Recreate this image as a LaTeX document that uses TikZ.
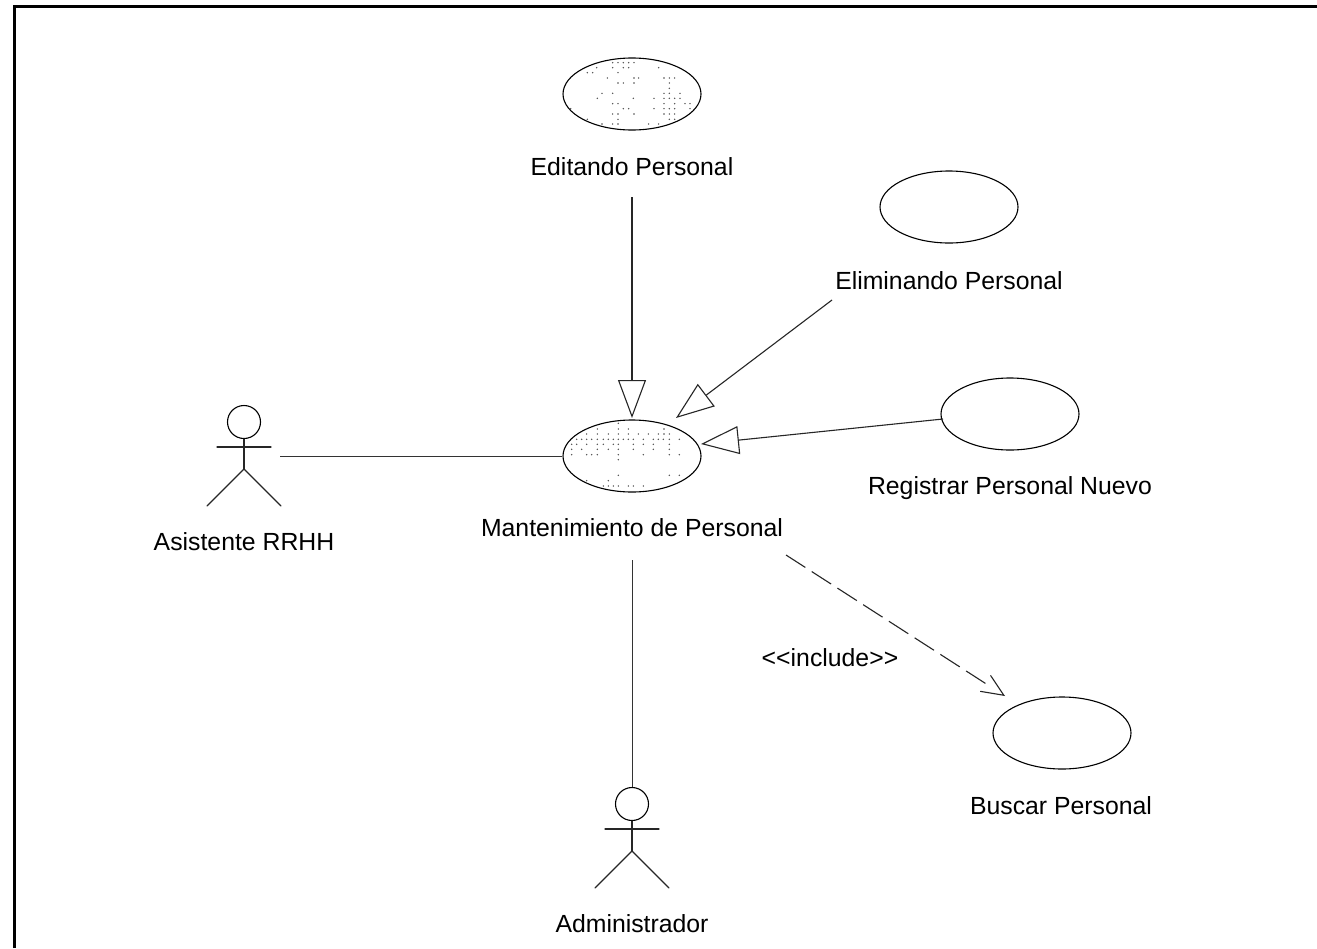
\documentclass[tikz,border=0pt]{standalone}
\usepackage{fontspec}
\setmainfont{Liberation Sans}
\usetikzlibrary{arrows.meta,shapes.geometric}
\tikzset{
  x=1pt,y=-1pt,
  usecase/.style={draw=black,ellipse,line width=1.1pt,minimum width=138pt,minimum height=72pt,inner sep=0pt,fill=white},
  lbl/.style={font=\fontsize{24.8}{28}\selectfont,inner sep=0pt,text=black},
  limb/.style={line width=1.1pt,line cap=round,black!85},
  assoc/.style={line width=1pt,black!80},
  gen/.style={line width=1.1pt,black!85,-{Triangle[open,length=38pt,width=28pt,line width=1.1pt]}},
  dep/.style={line width=1.1pt,black!85,dash pattern=on 23pt off 7.6pt on 23pt off 7.6pt on 23pt off 7.6pt on 23pt off 7.6pt on 23pt off 7.6pt on 23pt off 7.6pt on 23pt off 7.6pt on 23pt off 100pt,-{Straight Barb[length=22pt,width=19pt,line width=1.1pt]}},
  actorhead/.style={circle,draw=black,line width=1.1pt,minimum size=33pt,inner sep=0pt},
  speck/.style={fill=black!70}
}
\newcommand{\actorfig}[3]{%
  \node[actorhead] (#3h) at (#1,#2) {};
  \coordinate (#3b) at (#1,#2+47);
  \coordinate (#3al) at (#1-27,#2+25);
  \coordinate (#3ar) at (#1+27,#2+25);
  \coordinate (#3ll) at (#1-37,#2+84);
  \coordinate (#3lr) at (#1+37,#2+84);
  \draw[limb] (#3h.south) -- (#3b);
  \draw[limb] (#3al) -- (#3ar);
  \draw[limb] (#3ll) -- (#3b) -- (#3lr);
}
\begin{document}
\begin{tikzpicture}
\useasboundingbox (0,0) rectangle (1317,948);
\fill[white] (0,0) rectangle (1317,948);
\draw[line width=3pt,black] (14,948) -- (14,6) -- (1317,6);

\node[usecase] (edit) at (632,94) {};
\node[usecase] (elim) at (949,207) {};
\node[usecase] (reg) at (1010,414) {};
\node[usecase] (mant) at (632,456) {};
\node[usecase] (busc) at (1062,733) {};

\foreach \yy/\xs in {68/{188,204,220,236,252},83/{140,188,220,236,326},98/{112,128,204},114/{172,252,266,342,358,374},129/{204,220,252,358},145/{358},160/{156,188,342,358,390},175/{142,250,312,342,358,374,390},191/{188,204,342,374,405,420},206/{62,220,236,312,342,358,374,420},222/{188,204,252,342,358,374},238/{112,204,358,374},252/{156,188,204,296,326}}
  \foreach \xx in \xs \fill[speck] ({550+\xx/3},{40+\yy/3}) circle (0.8);
\foreach \yy/\xs in {190/{235},207/{172,235,265,372},222/{140,172,205,235,265,295,325,355,372,388},238/{110,125,140,155,172,190,205,220,235,250,265,280,310,340,355,370,388,418},253/{95,110,140,172,190,220,235,280,310,340,388},268/{95,125,172,205,235,280,340,388},284/{95,140,155,172,235,310,388,418},299/{235},346/{235,388,418},362/{140,205},378/{190,205,220,235,265,280,310}}
  \foreach \xx in \xs \fill[speck] ({540+\xx/3},{360+\yy/3}) circle (0.8);

\node[lbl] (ledit) at (632,167) {Editando Personal};
\node[lbl] (lelim) at (949,281) {Eliminando Personal};
\node[lbl] (lreg) at (1010,488) {Registrar Personal Nuevo};
\node[lbl] (lmant) at (632,528) {Mantenimiento de Personal};
\node[lbl] (lasis) at (244,542) {Asistente RRHH};
\node[lbl] (ladm) at (632,924) {Administrador};
\node[lbl] (lbusc) at (1061,806) {Buscar Personal};
\node[lbl] (linc) at (830,658) {<{}<include>{}>};

\actorfig{244}{422}{as}
\actorfig{632}{804}{ad}

\coordinate (c1) at (632,197);
\coordinate (t1) at (632,418);
\coordinate (c2) at (832,300);
\coordinate (t2) at (676,418);
\coordinate (c3) at (943,419);
\coordinate (t3) at (701,444);
\coordinate (c4) at (786,555);
\coordinate (t4) at (1005,696);
\coordinate (c5) at (280,456);
\coordinate (c6) at (632,560);

\draw[gen] (c1) -- (t1);
\draw[gen] (c2) -- (t2);
\draw[gen] (c3) -- (t3);
\draw[dep] (c4) -- (t4);
\draw[assoc] (c5) -- (mant.west);
\draw[assoc] (c6) -- (adh.north);
\end{tikzpicture}
\end{document}
